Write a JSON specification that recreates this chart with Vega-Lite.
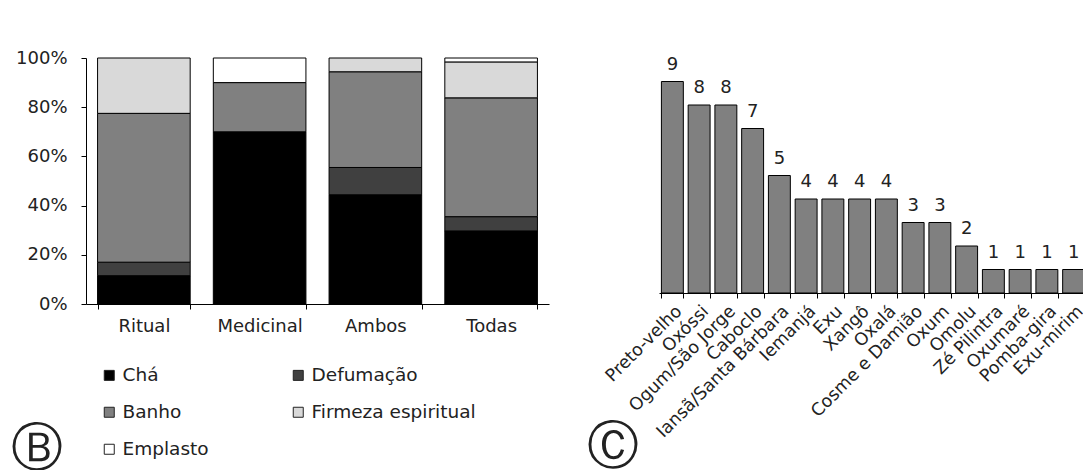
{
  "$schema": "https://vega.github.io/schema/vega-lite/v6.json",
  "padding": {"left": 10, "top": 49, "right": 0, "bottom": 0},
  "spacing": 38,
  "config": {
    "font": "DejaVu Sans",
    "view": {"stroke": null},
    "axis": {"labelColor": "#222", "domainColor": "#000", "tickColor": "#000", "labelFont": "DejaVu Sans", "grid": false, "title": null}
  },
  "hconcat": [
    {
      "width": 463,
      "height": 246,
      "title": {"text": "Ⓑ", "orient": "bottom", "anchor": "start", "frame": "bounds", "font": "DejaVu Sans", "fontSize": 52, "fontWeight": "normal", "color": "#222", "offset": 89, "dx": -5},
      "data": {"values": [
        {"uso": "Ritual", "tipo": "Chá", "ord": 1, "pct": 11.5},
        {"uso": "Ritual", "tipo": "Defumação", "ord": 2, "pct": 5.5},
        {"uso": "Ritual", "tipo": "Banho", "ord": 3, "pct": 60.5},
        {"uso": "Ritual", "tipo": "Firmeza espiritual", "ord": 4, "pct": 22.5},
        {"uso": "Medicinal", "tipo": "Chá", "ord": 1, "pct": 70},
        {"uso": "Medicinal", "tipo": "Banho", "ord": 3, "pct": 20},
        {"uso": "Medicinal", "tipo": "Emplasto", "ord": 5, "pct": 10},
        {"uso": "Ambos", "tipo": "Chá", "ord": 1, "pct": 44.4},
        {"uso": "Ambos", "tipo": "Defumação", "ord": 2, "pct": 11.1},
        {"uso": "Ambos", "tipo": "Banho", "ord": 3, "pct": 38.9},
        {"uso": "Ambos", "tipo": "Firmeza espiritual", "ord": 4, "pct": 5.6},
        {"uso": "Todas", "tipo": "Chá", "ord": 1, "pct": 29.7},
        {"uso": "Todas", "tipo": "Defumação", "ord": 2, "pct": 5.8},
        {"uso": "Todas", "tipo": "Banho", "ord": 3, "pct": 48.3},
        {"uso": "Todas", "tipo": "Firmeza espiritual", "ord": 4, "pct": 14.6},
        {"uso": "Todas", "tipo": "Emplasto", "ord": 5, "pct": 1.6}
      ]},
      "mark": {"type": "bar", "stroke": "#000", "strokeWidth": 1},
      "encoding": {
        "x": {"field": "uso", "type": "nominal", "sort": ["Ritual", "Medicinal", "Ambos", "Todas"],
              "scale": {"paddingInner": 0.2, "paddingOuter": 0.1},
              "axis": {"labelAngle": 0, "labelFontSize": 18, "tickBand": "extent", "tickSize": 5, "labelPadding": 8}},
        "y": {"field": "pct", "type": "quantitative", "stack": "normalize", "scale": {"domain": [0, 1]},
              "axis": {"format": ".0%", "values": [0, 0.2, 0.4, 0.6, 0.8, 1], "labelFontSize": 18, "tickSize": 5, "labelPadding": 14}},
        "color": {"field": "tipo", "type": "nominal",
                  "scale": {"domain": ["Chá", "Banho", "Emplasto", "Defumação", "Firmeza espiritual"],
                            "range": ["#000000", "#808080", "#ffffff", "#404040", "#d9d9d9"]},
                  "legend": {"title": null,
                             "orient": "none", "legendX": 14, "legendY": 308, "columns": 2, "gridAlign": "each",
                             "symbolType": "square", "symbolSize": 100, "symbolStrokeColor": "#222", "symbolStrokeWidth": 1, "symbolOpacity": 1,
                             "labelFontSize": 18.5, "labelColor": "#222", "labelOffset": 4, "labelLimit": 0, "rowPadding": 18, "columnPadding": 80}},
        "order": {"field": "ord", "type": "quantitative"}
      }
    },
    {
      "width": 428,
      "height": 235,
      "title": {"text": "Ⓒ", "orient": "bottom", "anchor": "start", "frame": "bounds", "font": "DejaVu Sans", "fontSize": 52, "fontWeight": "normal", "color": "#222", "offset": -19, "dx": -15},
      "data": {"values": [
        {"orixa": "Preto-velho", "n": 9},
        {"orixa": "Oxóssi", "n": 8},
        {"orixa": "Ogum/São Jorge", "n": 8},
        {"orixa": "Caboclo", "n": 7},
        {"orixa": "Iansã/Santa Bárbara", "n": 5},
        {"orixa": "Iemanjá", "n": 4},
        {"orixa": "Exu", "n": 4},
        {"orixa": "Xangô", "n": 4},
        {"orixa": "Oxalá", "n": 4},
        {"orixa": "Cosme e Damião", "n": 3},
        {"orixa": "Oxum", "n": 3},
        {"orixa": "Omolu", "n": 2},
        {"orixa": "Zé Pilintra", "n": 1},
        {"orixa": "Oxumaré", "n": 1},
        {"orixa": "Pomba-gira", "n": 1},
        {"orixa": "Exu-mirim", "n": 1}
      ]},
      "encoding": {
        "x": {"field": "orixa", "type": "nominal", "sort": null,
              "scale": {"paddingInner": 0.18, "paddingOuter": 0.09},
              "axis": {"labelAngle": -45, "labelFontSize": 17.5, "tickBand": "extent", "tickSize": 5, "labelPadding": 4}},
        "y": {"field": "n", "type": "quantitative", "scale": {"domain": [0, 10]}, "axis": null}
      },
      "layer": [
        {"mark": {"type": "bar", "fill": "#808080", "stroke": "#000", "strokeWidth": 1}},
        {"mark": {"type": "text", "dy": -12, "baseline": "alphabetic", "fontSize": 18, "fill": "#222"},
         "encoding": {"text": {"field": "n", "type": "quantitative"}}}
      ]
    }
  ]
}
